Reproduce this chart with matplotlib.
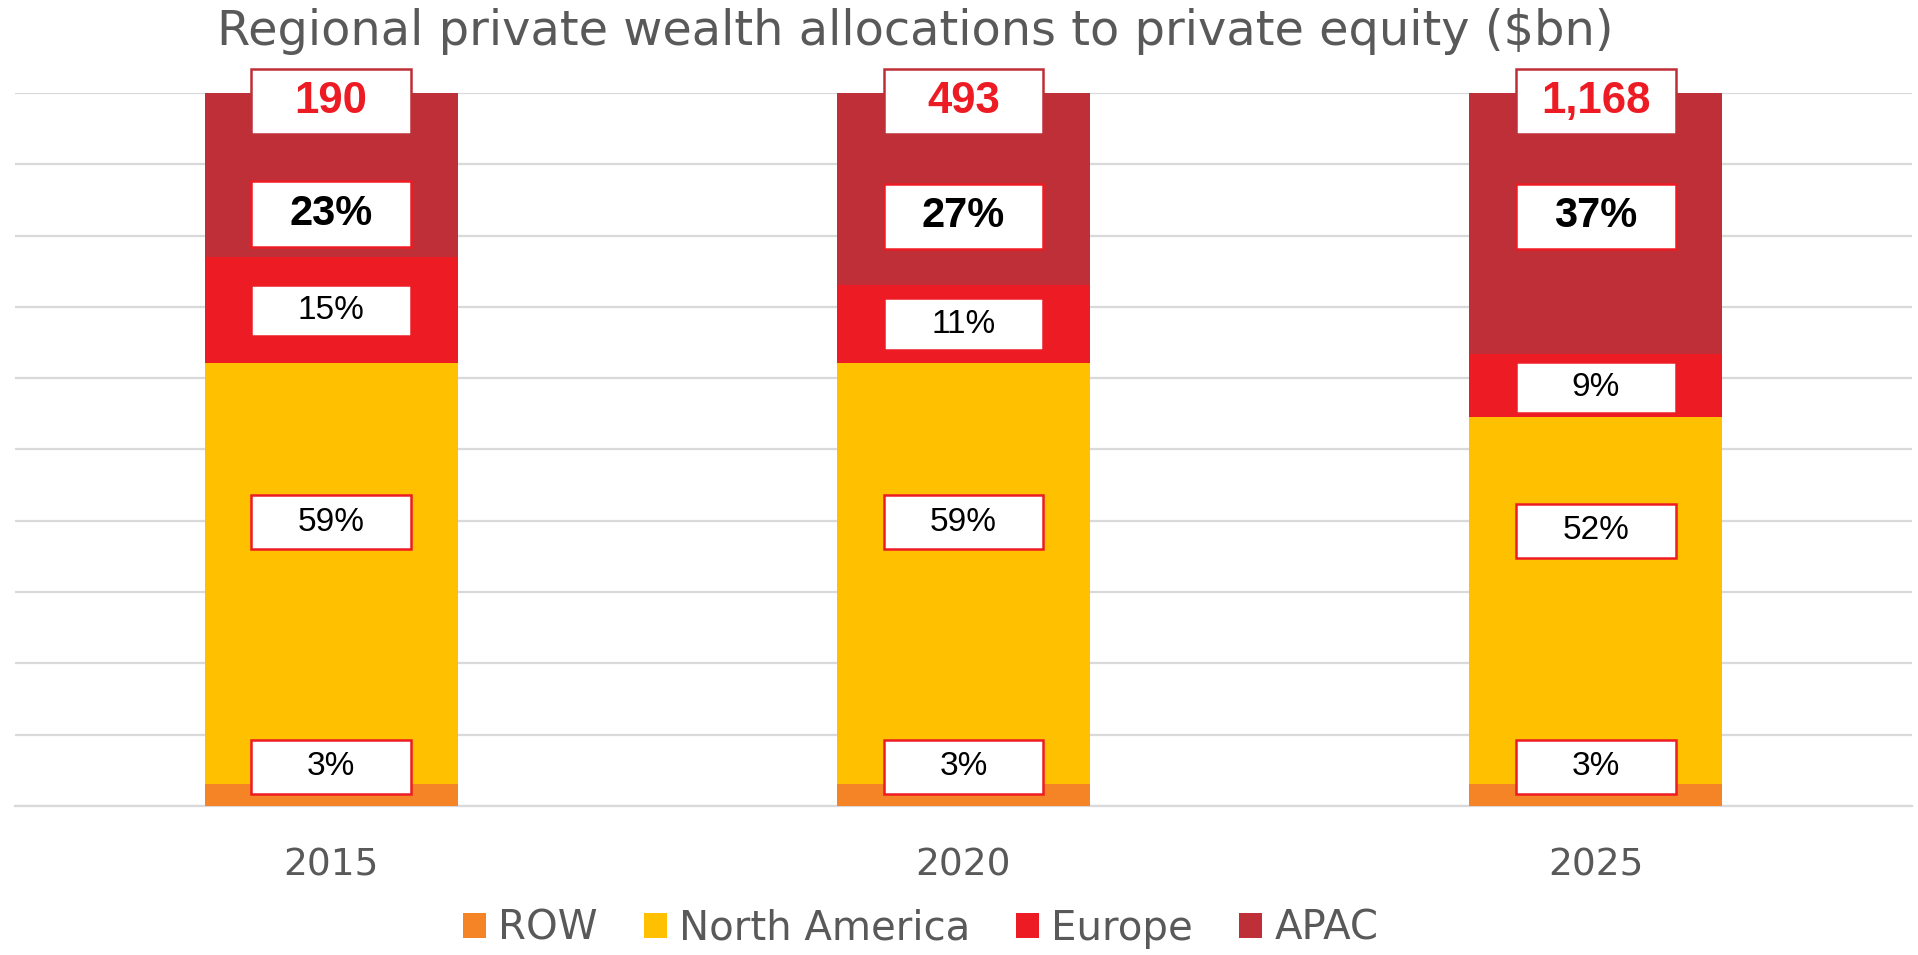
import numpy as np
import matplotlib.pyplot as plt
from matplotlib.patches import Rectangle, Patch

# data (shares in %)
years = ['2015', '2020', '2025']
regions = ['ROW', 'North America', 'Europe', 'APAC']
row_share = [3.1, 3.1, 3.1]
na_share = [59.0, 59.0, 51.5]
europe_share = [14.9, 11.0, 8.8]
apac_share = [23.0, 26.9, 36.6]
totals = ['190', '493', '1,168']
row_labels = ['3%', '3%', '3%']
na_labels = ['59%', '59%', '52%']
europe_labels = ['15%', '11%', '9%']
apac_labels = ['23%', '27%', '37%']

colors = ['#F58426', '#FFC000', '#ED1C24', '#BF2F38']
gray = '#595959'

# where the label boxes sit (y in %)
row_pos = [5.5, 5.5, 5.5]
na_pos = [39.8, 39.8, 38.6]
europe_pos = [69.5, 67.6, 58.7]
apac_pos = [83.0, 82.7, 82.7]
total_pos = [98.8, 98.8, 98.8]

fig = plt.figure(figsize=(19.18, 9.55), dpi=100)
ax = fig.add_axes([15 / 1918, 149 / 955, 1897 / 1918, 713 / 955])

x = np.arange(len(years))
width = 0.4
bottom = np.zeros(len(years))
for vals, c, name in zip([row_share, na_share, europe_share, apac_share], colors, regions):
    ax.bar(x, vals, width, bottom=bottom, color=c, label=name, zorder=2)
    bottom += np.array(vals)


def label_box(xc, yc, text, h, edge, tcolor='black', size=24, weight='normal'):
    bw = 0.253
    ax.add_patch(Rectangle((xc - bw / 2, yc - h / 2), bw, h, facecolor='white',
                           edgecolor=edge, linewidth=1.8, zorder=3, clip_on=False))
    ax.text(xc, yc, text, ha='center', va='center', fontsize=size, color=tcolor,
            fontweight=weight, family='Liberation Sans', zorder=4, clip_on=False)


for i in range(len(years)):
    label_box(x[i], row_pos[i], row_labels[i], 7.5, '#ED1C24')
    label_box(x[i], na_pos[i], na_labels[i], 7.5, '#ED1C24')
    label_box(x[i], europe_pos[i], europe_labels[i], 7.2, '#ED1C24')
    label_box(x[i], apac_pos[i], apac_labels[i], 9.2, '#ED1C24', size=30, weight='bold')
    label_box(x[i], total_pos[i], totals[i], 9.2, '#BF2F38', tcolor='#ED1C24', size=31.5, weight='bold')

ax.set_xlim(-0.5, 2.5)
ax.set_ylim(0, 100)
ax.set_yticks(np.arange(0, 101, 10))
ax.yaxis.grid(True, color='#D9D9D9', linewidth=1.6, zorder=0)
ax.set_axisbelow(True)
ax.tick_params(axis='y', left=False, labelleft=False)
ax.tick_params(axis='x', length=0, pad=30, labelsize=27, labelcolor=gray)
ax.set_xticks(x)
ax.set_xticklabels(years)
for s in ['top', 'right', 'left']:
    ax.spines[s].set_visible(False)
ax.spines['bottom'].set_color('#D9D9D9')
ax.spines['bottom'].set_linewidth(1.6)
ax.spines['bottom'].set_zorder(1)

fig.text(915 / 1918, 1 - 45 / 955, 'Regional private wealth allocations to private equity ($bn)',
         ha='center', va='baseline', fontsize=34.5, color=gray)

handles = [Patch(facecolor=c, label=n) for c, n in zip(colors, regions)]
fig.legend(handles=handles, loc='center', bbox_to_anchor=(0.48, 1 - 929 / 955), ncol=4,
           frameon=False, fontsize=29, labelcolor=gray, handlelength=0.57, handleheight=0.57,
           handletextpad=0.3, columnspacing=1.15, borderpad=0)

fig.savefig('out.png', dpi=100)
